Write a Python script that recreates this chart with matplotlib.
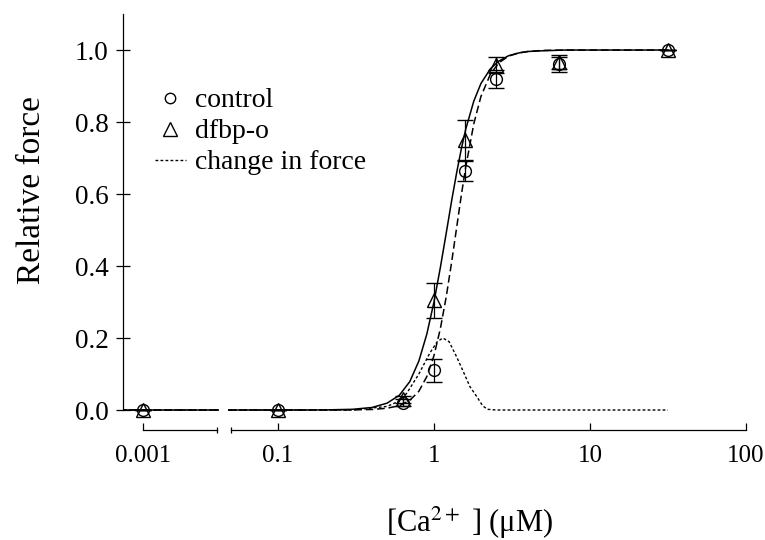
import numpy as np
import matplotlib
matplotlib.use("Agg")
import matplotlib.pyplot as plt
from matplotlib.lines import Line2D
from matplotlib.ticker import FixedLocator, NullFormatter, FixedFormatter

plt.rcParams['font.family'] = ['Liberation Serif', 'DejaVu Serif']
plt.rcParams['mathtext.fontset'] = 'stix'

# measured points (uM Ca2+, relative force)
ca = [0.001, 0.1, 0.63, 1.0, 1.58, 2.5, 6.3, 31.6]
control = [0.0, 0.0, 0.02, 0.11, 0.665, 0.92, 0.96, 1.0]
control_err = [0, 0, 0.01, 0.033, 0.03, 0.025, 0.02, 0]
dfbp = [0.0, 0.0, 0.03, 0.305, 0.75, 0.958, 0.967, 1.0]
dfbp_err = [0, 0, 0.01, 0.048, 0.057, 0.022, 0.02, 0]

# fitted curves
fit_x = [0.0007, 0.1, 0.2, 0.3, 0.4, 0.5, 0.6, 0.7, 0.8, 0.9, 1.0, 1.1, 1.2, 1.3,
         1.4, 1.5, 1.6, 1.8, 2.0, 2.3, 2.6, 3.0, 3.5, 4.0, 5.0, 7.0, 10.0, 31.6]
fit_dfbp = [0, 0, 0.0003, 0.002, 0.007, 0.019, 0.041, 0.079, 0.136, 0.211, 0.300,
            0.397, 0.493, 0.583, 0.661, 0.727, 0.781, 0.858, 0.907, 0.948, 0.969,
            0.984, 0.992, 0.996, 0.998, 1.0, 1.0, 1.0]
fit_control = [0, 0, 0, 0.0003, 0.0015, 0.005, 0.012, 0.027, 0.052, 0.093, 0.151,
               0.227, 0.316, 0.413, 0.509, 0.599, 0.676, 0.795, 0.871, 0.933, 0.964,
               0.983, 0.992, 0.996, 0.999, 1.0, 1.0, 1.0]
change_x = [0.0007, 0.3, 0.5, 0.6, 0.67, 0.8, 0.94, 1.05, 1.14, 1.25, 1.4, 1.53,
            1.7, 1.89, 2.05, 2.2, 2.5, 31.6]
change_y = [0, 0, 0.01, 0.025, 0.047, 0.10, 0.158, 0.19, 0.20, 0.19, 0.147, 0.11,
            0.065, 0.036, 0.012, 0.002, 0, 0]

yticks = [0.0, 0.2, 0.4, 0.6, 0.8, 1.0]

fig = plt.figure(figsize=(7.65, 5.4), dpi=100)
ax_l = fig.add_axes([0.1608, 0.2207, 0.1255, 0.7533])
ax_r = fig.add_axes([0.2980, 0.2207, 0.6771, 0.7533])

for ax in (ax_l, ax_r):
    ax.plot(fit_x, fit_dfbp, color='k', lw=1.1)
    ax.plot(fit_x, fit_control, color='k', lw=1.1, ls='--', dashes=(5, 2.5))
    ax.plot(change_x, change_y, color='k', lw=1.0, ls=':', dashes=(2, 1.6))
    ax.errorbar(ca, control, yerr=control_err, fmt='o', mfc='none', mec='k', mew=1.0,
                ms=8.5, ecolor='k', elinewidth=0.9, capsize=5.5, capthick=0.9)
    ax.errorbar(ca, dfbp, yerr=dfbp_err, fmt='^', mfc='none', mec='k', mew=1.0,
                ms=10.5, ecolor='k', elinewidth=0.9, capsize=5.5, capthick=0.9)
    ax.set_xscale('log')
    ax.set_ylim(-0.03, 1.1)
    ax.spines['top'].set_visible(False)
    ax.spines['right'].set_visible(False)
    ax.spines['bottom'].set_position(('outward', 6.6))
    for s in ax.spines.values():
        s.set_linewidth(0.9)
    ax.tick_params(axis='x', which='major', direction='in', length=5, width=0.9,
                   pad=11, labelsize=18)
    ax.tick_params(axis='x', which='minor', direction='inout', length=4.5, width=0.9)

ax_l.set_xlim(7.44e-4, 3.07e-3)
ax_l.spines['bottom'].set_bounds(0.001, 0.003)
ax_l.xaxis.set_major_locator(FixedLocator([0.001]))
ax_l.xaxis.set_major_formatter(FixedFormatter(['0.001']))
ax_l.xaxis.set_minor_locator(FixedLocator([0.003]))
ax_l.xaxis.set_minor_formatter(NullFormatter())
ax_l.spines['left'].set_bounds(0, 1.1)
ax_l.set_yticks(yticks)
ax_l.set_yticklabels(['%.1f' % v for v in yticks])
ax_l.tick_params(axis='y', direction='inout', length=10, width=0.9, pad=5.5,
                 labelsize=19.5)
ax_l.set_ylabel('Relative force', fontsize=24)
ax_l.yaxis.set_label_coords(-0.79, 0.567)

ax_r.set_xlim(0.0478, 100)
ax_r.spines['bottom'].set_bounds(0.05, 100)
ax_r.spines['left'].set_visible(False)
ax_r.xaxis.set_major_locator(FixedLocator([0.1, 1, 10, 100]))
ax_r.xaxis.set_major_formatter(FixedFormatter(['0.1', '1', '10', '100']))
ax_r.xaxis.set_minor_locator(FixedLocator([0.05]))
ax_r.xaxis.set_minor_formatter(NullFormatter())
ax_r.tick_params(axis='y', left=False, labelleft=False)
ax_r.set_xlabel('[Ca$^{2+}$ ] (μM)', fontsize=22)
ax_r.xaxis.set_label_coords(0.467, -0.207)

handles = [
    Line2D([], [], marker='o', ls='none', mfc='none', mec='k', ms=7.5, mew=1.0),
    Line2D([], [], marker='^', ls='none', mfc='none', mec='k', ms=9.5, mew=1.0),
    Line2D([], [], color='k', lw=1.0, ls=':', dashes=(2, 1.6)),
]
fig.legend(handles, ['control', 'dfbp-o', 'change in force'], loc='upper left',
           bbox_to_anchor=(155 / 765, 1 - 88 / 540), frameon=False, fontsize=20,
           handlelength=1.1, handletextpad=0.35, labelspacing=0.2,
           borderpad=0, borderaxespad=0)

fig.savefig('out.png', dpi=100)
